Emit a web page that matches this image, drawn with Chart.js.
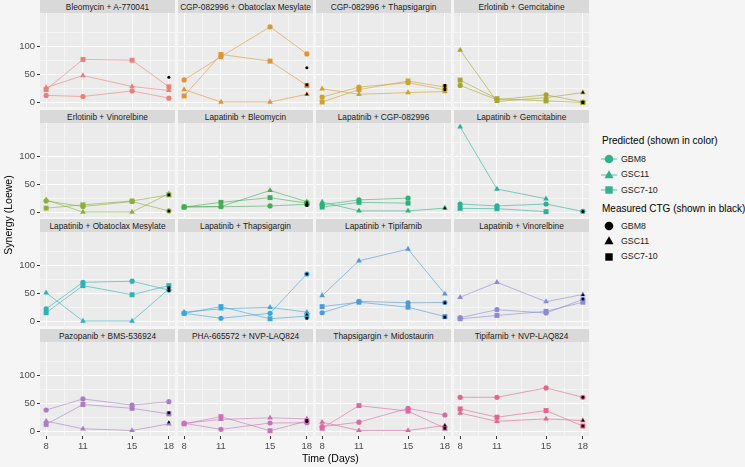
<!DOCTYPE html>
<html>
<head>
<meta charset="utf-8">
<script src="https://cdn.jsdelivr.net/npm/chart.js@4.4.1/dist/chart.umd.min.js"></script>
<style>
  body { margin: 0; background: #f5f5f5; font-family: "Liberation Sans", Arial, sans-serif; }
  #wrap { position: relative; width: 745px; height: 467px; overflow: hidden; }
  canvas { position: absolute; }
  .strip { position: absolute; background: #d9d9d9; color: #1a1a1a; font-size: 8.3px; text-align: center; white-space: nowrap; }
  .axtitle { position: absolute; font-size: 10.5px; color: #000; white-space: nowrap; }
  .lg { position: absolute; font-size: 10px; color: #000; white-space: nowrap; }
  .lgl { position: absolute; font-size: 8.8px; color: #1a1a1a; white-space: nowrap; }
  svg { position: absolute; }
</style>
</head>
<body>
<div id="wrap"></div>
<script>
// time points and panels
const days = [8, 11, 15, 18];
const combos = [
  'Bleomycin + A-770041', 'CGP-082996 + Obatoclax Mesylate', 'CGP-082996 + Thapsigargin', 'Erlotinib + Gemcitabine',
  'Erlotinib + Vinorelbine', 'Lapatinib + Bleomycin', 'Lapatinib + CGP-082996', 'Lapatinib + Gemcitabine',
  'Lapatinib + Obatoclax Mesylate', 'Lapatinib + Thapsigargin', 'Lapatinib + Tipifarnib', 'Lapatinib + Vinorelbine',
  'Pazopanib + BMS-536924', 'PHA-665572 + NVP-LAQ824', 'Thapsigargin + Midostaurin', 'Tipifarnib + NVP-LAQ824'
];

// predicted synergy, one row per combo, values at days 8/11/15/18
const predGBM8 = [
  [12, 10, 20, 7], [40, 82, 136, 87], [9, 27, 35, 22], [30, 4, 13, 0],
  [20, 10, 19, 2], [9, 9.5, 11, 14], [13, 22, 25, null], [14.5, 11, 14.5, 1],
  [22, 70, 72, 56], [14, 5, 14, 85], [15, 35.5, 33, 33.5], [6, 20.5, 14.5, 39],
  [38, 58, 47, 53], [14, 3, 14.5, 15], [8, 16, 41, 29], [61, 61, 78, 61]
];
const predGSC11 = [
  [26, 48, 28, 21], [22.5, 0, 0, 14], [24, 14, 17, 19], [94, 1, 8, 17],
  [22, 0, 0, 33], [9.6, 10, 39, 18.6], [18, 2, 2, 7], [154, 41.6, 24, null],
  [51, 0, 0, 58], [16, 22, 24.7, 16], [46, 109, 130, 49], [43, 70, 35, 48],
  [18, 4, 1, 13], [14, 21, 24, 22], [16, 1, 1, 10], [32.5, 17.5, 22, 19]
];
const predGSC710 = [
  [22.5, 77, 75.6, 27.5], [11, 86, 74, 30], [0, 22.5, 38, 27], [39.6, 6, 2, -1],
  [7, 13, 20, 31], [9, 17.5, 26, 16], [9, 17.5, 16, null], [6.6, 6, 0.6, null],
  [15, 64, 47.5, 64], [14, 26, 4, 9], [26, 34, 25, 8], [4, 10, 17.5, 34],
  [12, 48, 41, 31], [13, 26, 0.5, 18], [5, 46, 36, 5], [40, 25, 37, 9]
];

// measured CTG synergy at day 18
const ctgGBM8 = [45, 62, 22, 0, 2, 14, null, 1, 55, 85, 33, 40, null, 17, null, 61];
const ctgGSC11 = [null, 14, 26, 17, null, 17, 7, null, null, 12, null, 47, 16, null, 10, 19];
const ctgGSC710 = [null, 31, 30, -1, 31, 12, null, null, 60, 5, 7, null, 33, 19, 5, 9];

const yLabels = [0, 50, 100];
const yMinor = [25, 75, 125];
const xMinor = [9.5, 13, 16.5];

const panelColors = ['#ec7f7a', '#e19337', '#cca231', '#a6a62f', '#8bb03c', '#3fb050', '#2eb17a', '#2faf95',
                     '#2cb3b8', '#38aad8', '#4f9bd8', '#8b8bd6', '#ac7dc6', '#cd70bc', '#dd68a2', '#e2688b'];

const wrap = document.getElementById('wrap');
const colLeft = [40, 178, 316, 454];
const rowTop = [0, 110, 219, 329];
const STRIP = 13, PW = 135, PH = 94, AXW = 40, AXH = 30;

const panelBg = {
  id: 'panelBg',
  beforeDraw(chart) {
    const a = chart.chartArea, ctx = chart.ctx;
    ctx.save();
    ctx.fillStyle = '#ebebeb';
    ctx.fillRect(a.left, a.top, a.right - a.left, a.bottom - a.top);
    ctx.restore();
  }
};

function fade(hex, a) {
  const n = parseInt(hex.slice(1), 16);
  return `rgba(${n >> 16},${(n >> 8) & 255},${n & 255},${a})`;
}

function pts(arr) {
  return days.map((d, i) => ({ x: d, y: arr[i] }));
}

// keep the plot area fixed: no padding from tick labels
function noPad(s) {
  s.paddingLeft = 0; s.paddingRight = 0; s.paddingTop = 0; s.paddingBottom = 0;
}

combos.forEach(function(name, i) {
  const row = Math.floor(i / 4), col = i % 4;
  const left = colLeft[col], top = rowTop[row];
  const extraL = col === 0 ? AXW : 0;
  const extraB = row === 3 ? AXH : 0;

  const strip = document.createElement('div');
  strip.className = 'strip';
  strip.style.cssText = `left:${left}px;top:${top}px;width:${PW}px;height:${STRIP}px;line-height:${STRIP + 1}px;`;
  strip.textContent = name;
  wrap.appendChild(strip);

  const cv = document.createElement('canvas');
  cv.width = PW + extraL;
  cv.height = PH + extraB;
  cv.style.left = (left - extraL) + 'px';
  cv.style.top = (top + STRIP) + 'px';
  wrap.appendChild(cv);

  const c = panelColors[i];
  const line = fade(c, 0.75);
  const blackPt = (v, style, r) => ({
    data: v === null ? [] : [{ x: 18, y: v }],
    showLine: false, pointStyle: style, pointRadius: r,
    pointBackgroundColor: '#000', pointBorderWidth: 0
  });
  const predLine = (arr, style, r) => ({
    data: pts(arr), showLine: true, borderColor: line, borderWidth: 0.8,
    pointStyle: style, pointRadius: r, pointBackgroundColor: c, pointBorderWidth: 0
  });

  new Chart(cv.getContext('2d'), {
    type: 'scatter',
    data: {
      datasets: [
        blackPt(ctgGBM8[i], 'circle', 1.5),
        blackPt(ctgGSC11[i], 'triangle', 2),
        blackPt(ctgGSC710[i], 'rect', 2),
        predLine(predGBM8[i], 'circle', 2.6),
        predLine(predGSC11[i], 'triangle', 3.3),
        predLine(predGSC710[i], 'rect', 3.5)
      ]
    },
    options: {
      responsive: false,
      animation: false,
      layout: { padding: 0, autoPadding: false },
      plugins: { legend: { display: false }, tooltip: { enabled: false } },
      events: [],
      scales: {
        x: {
          type: 'linear', min: 7.5, max: 18.5,
          afterBuildTicks: s => { s.ticks = days.concat(xMinor).sort((a, b) => a - b).map(v => ({ value: v })); },
          afterFit: s => { s.height = extraB; noPad(s); },
          border: { display: false },
          grid: {
            color: '#ffffff',
            lineWidth: ctx => days.includes(ctx.tick.value) ? 1 : 0.5,
            drawTicks: row === 3, tickLength: 3,
            tickColor: ctx => days.includes(ctx.tick.value) ? '#333333' : 'rgba(0,0,0,0)'
          },
          ticks: {
            display: row === 3, autoSkip: false, maxRotation: 0, padding: 2,
            color: '#4d4d4d', font: { size: 9.5, family: '"Liberation Sans", Arial' },
            callback: v => days.includes(v) ? String(v) : ''
          }
        },
        y: {
          type: 'linear', min: -9, max: 161,
          afterBuildTicks: s => { s.ticks = yLabels.concat(yMinor).sort((a, b) => a - b).map(v => ({ value: v })); },
          afterFit: s => { s.width = extraL; noPad(s); },
          border: { display: false },
          grid: {
            color: '#ffffff',
            lineWidth: ctx => yLabels.includes(ctx.tick.value) ? 1 : 0.5,
            drawTicks: col === 0, tickLength: 3,
            tickColor: ctx => yLabels.includes(ctx.tick.value) ? '#333333' : 'rgba(0,0,0,0)'
          },
          ticks: {
            display: col === 0, autoSkip: false, padding: 2,
            color: '#4d4d4d', font: { size: 9.5, family: '"Liberation Sans", Arial' },
            callback: v => yLabels.includes(v) ? String(v) : ''
          }
        }
      }
    },
    plugins: [panelBg]
  });
});

// axis titles
const xt = document.createElement('div');
xt.className = 'axtitle';
xt.textContent = 'Time (Days)';
xt.style.cssText = 'left:302px;top:452px;';
wrap.appendChild(xt);

const yt = document.createElement('div');
yt.className = 'axtitle';
yt.textContent = 'Synergy (Loewe)';
yt.style.cssText = 'left:-32px;top:209px;width:80px;text-align:center;transform:rotate(-90deg);';
wrap.appendChild(yt);

// legend
const legendColor = '#33b18f';
const keyShapes = ['circle', 'triangle', 'square'];
const keyNames = ['GBM8', 'GSC11', 'GSC7-10'];

function addText(cls, txt, x, y) {
  const d = document.createElement('div');
  d.className = cls;
  d.textContent = txt;
  d.style.left = x + 'px';
  d.style.top = y + 'px';
  wrap.appendChild(d);
}

function shapeSvg(shape, fill, withLine) {
  let s = '';
  if (withLine) s += `<line x1="0" y1="8" x2="16" y2="8" stroke="${fill}" stroke-width="0.8"/>`;
  if (shape === 'circle') s += `<circle cx="8" cy="8" r="4.3" fill="${fill}"/>`;
  if (shape === 'triangle') s += `<polygon points="8,3.3 12.6,11.3 3.4,11.3" fill="${fill}"/>`;
  if (shape === 'square') s += `<rect x="4.3" y="4.3" width="7.4" height="7.4" fill="${fill}"/>`;
  return s;
}

function addKey(shape, fill, withLine, cy) {
  const svg = document.createElementNS('http://www.w3.org/2000/svg', 'svg');
  svg.setAttribute('width', 16);
  svg.setAttribute('height', 16);
  svg.style.left = '601px';
  svg.style.top = (cy - 8) + 'px';
  svg.innerHTML = shapeSvg(shape, fill, withLine);
  wrap.appendChild(svg);
}

addText('lg', 'Predicted (shown in color)', 602, 135);
[159, 174.5, 190].forEach((cy, k) => {
  addKey(keyShapes[k], legendColor, true, cy);
  addText('lgl', keyNames[k], 621, cy - 5.5);
});
addText('lg', 'Measured CTG (shown in black)', 602, 203);
[226, 241, 256.5].forEach((cy, k) => {
  addKey(keyShapes[k], '#000', false, cy);
  addText('lgl', keyNames[k], 621, cy - 5.5);
});
</script>
</body>
</html>
